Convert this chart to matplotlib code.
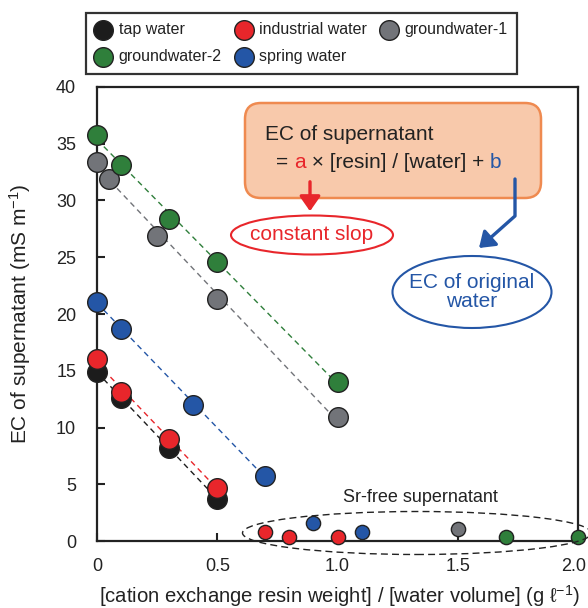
import numpy as np
import matplotlib
matplotlib.use("Agg")
import matplotlib.pyplot as plt
import matplotlib.transforms as mtransforms
from matplotlib.patches import Ellipse, FancyBboxPatch, FancyArrowPatch
from matplotlib.path import Path

plt.rcParams['font.family'] = ['Liberation Sans', 'DejaVu Sans']
plt.rcParams['mathtext.fontset'] = 'custom'
plt.rcParams['mathtext.rm'] = 'Liberation Sans'
plt.rcParams['mathtext.it'] = 'Liberation Sans:italic'

# resin / water ratio (g/l) and EC of supernatant (mS/m)
tap_x = [0, 0.1, 0.3, 0.5]
tap_y = [14.9, 12.6, 8.2, 3.7]
ind_x = [0, 0.1, 0.3, 0.5]
ind_y = [16.0, 13.1, 9.0, 4.7]
gw1_x = [0, 0.05, 0.25, 0.5, 1.0]
gw1_y = [33.4, 31.9, 26.9, 21.3, 10.9]
gw2_x = [0, 0.1, 0.3, 0.5, 1.0]
gw2_y = [35.8, 33.1, 28.4, 24.6, 14.0]
spr_x = [0, 0.1, 0.4, 0.7]
spr_y = [21.1, 18.7, 12.0, 5.7]

# Sr-free supernatant points
free_ind_x = [0.7, 0.8, 1.0]
free_ind_y = [0.8, 0.4, 0.4]
free_spr_x = [0.9, 1.1]
free_spr_y = [1.6, 0.8]
free_gw1_x = [1.5]
free_gw1_y = [1.1]
free_gw2_x = [1.7, 2.0]
free_gw2_y = [0.35, 0.35]

xticks = [0, 0.5, 1.0, 1.5, 2.0]
xtick_labels = ["0", "0.5", "1.0", "1.5", "2.0"]
yticks = [0, 5, 10, 15, 20, 25, 30, 35, 40]

c_tap = "#1c1c1c"
c_ind = "#e8262b"
c_gw1 = "#727479"
c_gw2 = "#2f7f3b"
c_spr = "#2456a6"
edge = "#222222"

fig = plt.figure(figsize=(5.88, 6.08), dpi=100)
ax = fig.add_axes([0.165, 0.110, 0.818, 0.747])

series = [
    ("tap water", tap_x, tap_y, c_tap, [], []),
    ("industrial water", ind_x, ind_y, c_ind, free_ind_x, free_ind_y),
    ("groundwater-1", gw1_x, gw1_y, c_gw1, free_gw1_x, free_gw1_y),
    ("groundwater-2", gw2_x, gw2_y, c_gw2, free_gw2_x, free_gw2_y),
    ("spring water", spr_x, spr_y, c_spr, free_spr_x, free_spr_y),
]

handles = {}
for name, xs, ys, col, fx, fy in series:
    # regression line over the measured range
    k, m = np.polyfit(xs, ys, 1)
    xl = np.array([min(xs), max(xs)])
    ax.plot(xl, k * xl + m, ls=(0, (4, 3)), lw=1, color=col, zorder=2)
    h = ax.scatter(xs, ys, s=200, color=col, edgecolors=edge, linewidths=1,
                   zorder=4, clip_on=False, label=name)
    if fx:
        ax.scatter(fx, fy, s=105, color=col, edgecolors=edge, linewidths=1,
                   zorder=4, clip_on=False)
    handles[name] = h

ax.set_xlim(0, 2.0)
ax.set_ylim(0, 40)
ax.set_xticks(xticks)
ax.set_xticklabels(xtick_labels)
ax.set_yticks(yticks)
ax.tick_params(direction="in", length=6, width=1.5, labelsize=13,
               colors="#222222")
ax.tick_params(axis="y", pad=15)
ax.tick_params(axis="x", pad=12)
for s in ax.spines.values():
    s.set_linewidth(1.6)
    s.set_color("#222222")

# nudge the last x label so it stays inside the picture
last = ax.get_xticklabels()[-1]
last.set_transform(last.get_transform() +
                   mtransforms.ScaledTranslation(-4 / 100, 0, fig.dpi_scale_trans))

ax.set_xlabel("[cation exchange resin weight] / [water volume] (g \u2113$^{-1}$)",
              fontsize=14.6, color="#222222")
ax.set_ylabel("EC of supernatant (mS m$^{-1}$)", fontsize=15, color="#222222")
ax.xaxis.set_label_coords(0.505, -0.093)
ax.yaxis.set_label_coords(-0.133, 0.5)

# legend, filled row by row
order = ["tap water", "groundwater-2", "industrial water", "spring water", "groundwater-1"]
leg = fig.legend([handles[n] for n in order], order, ncol=3, loc="upper left",
                 bbox_to_anchor=(0.146, 0.979), frameon=True, fancybox=False,
                 fontsize=11.5, handletextpad=0.45, columnspacing=0.9,
                 borderpad=0.6, labelspacing=0.75, markerscale=1,
                 handlelength=1.0, borderaxespad=0, labelcolor="#222222")
leg.get_frame().set_edgecolor("black")
leg.get_frame().set_linewidth(1.6)

# annotations (drawn in figure inches)
tr = fig.dpi_scale_trans
box = FancyBboxPatch((2.45, 4.10), 2.96, 0.95,
                     boxstyle="round,pad=0,rounding_size=0.16",
                     facecolor="#f8c9ab", edgecolor="#ef8a50", lw=1.8,
                     transform=tr, zorder=5)
fig.add_artist(box)
fig.text(2.65, 4.73, "EC of supernatant", transform=tr, fontsize=15,
         va="center", ha="left", color="#222222", zorder=6)

# second line with coloured a and b, pieces chained one after another
prev = fig.text(2.76, 4.46, "= ", transform=tr, fontsize=15, va="center",
                ha="left", color="#222222", zorder=6)
for piece, col in [("a", c_ind), (" \u00d7 [resin] / [water] + ", "#222222"), ("b", c_spr)]:
    prev = fig.add_artist(plt.Annotation(piece, xy=(1, 0), xycoords=prev,
                                         va="bottom", ha="left",
                                         fontsize=15, color=col, zorder=6))

red_arrow = FancyArrowPatch((3.10, 4.29), (3.10, 3.94), transform=tr,
                            arrowstyle="-|>,head_width=0.35,head_length=0.5",
                            mutation_scale=18, color=c_ind, lw=2.4, zorder=6)
fig.add_artist(red_arrow)
red_ell = Ellipse((3.12, 3.73), 1.62, 0.39, transform=tr, facecolor="white",
                  edgecolor=c_ind, lw=1.5, zorder=5)
fig.add_artist(red_ell)
fig.text(3.12, 3.73, "constant slop", transform=tr, fontsize=15, color=c_ind,
         ha="center", va="center", zorder=6)

blue_path = Path([(5.15, 4.29), (5.15, 3.92), (4.79, 3.60)])
blue_arrow = FancyArrowPatch(path=blue_path, transform=tr,
                             arrowstyle="-|>,head_width=0.35,head_length=0.5",
                             mutation_scale=18, color=c_spr, lw=2.4, zorder=6)
fig.add_artist(blue_arrow)
blue_ell = Ellipse((4.72, 3.16), 1.59, 0.72, transform=tr, facecolor="white",
                   edgecolor=c_spr, lw=1.5, zorder=5)
fig.add_artist(blue_ell)
fig.text(4.72, 3.16, "EC of original\nwater", transform=tr, fontsize=15,
         color=c_spr, ha="center", va="center", linespacing=1.0, zorder=6)

free_ell = Ellipse((4.17, 0.75), 3.49, 0.43, transform=tr, fill=False,
                   edgecolor="#222222", lw=1, ls=(0, (5, 3)), zorder=3)
fig.add_artist(free_ell)
fig.text(4.20, 1.11, "Sr-free supernatant", transform=tr, fontsize=13,
         color="#222222", ha="center", va="center")

fig.savefig("out.png", dpi=100)
